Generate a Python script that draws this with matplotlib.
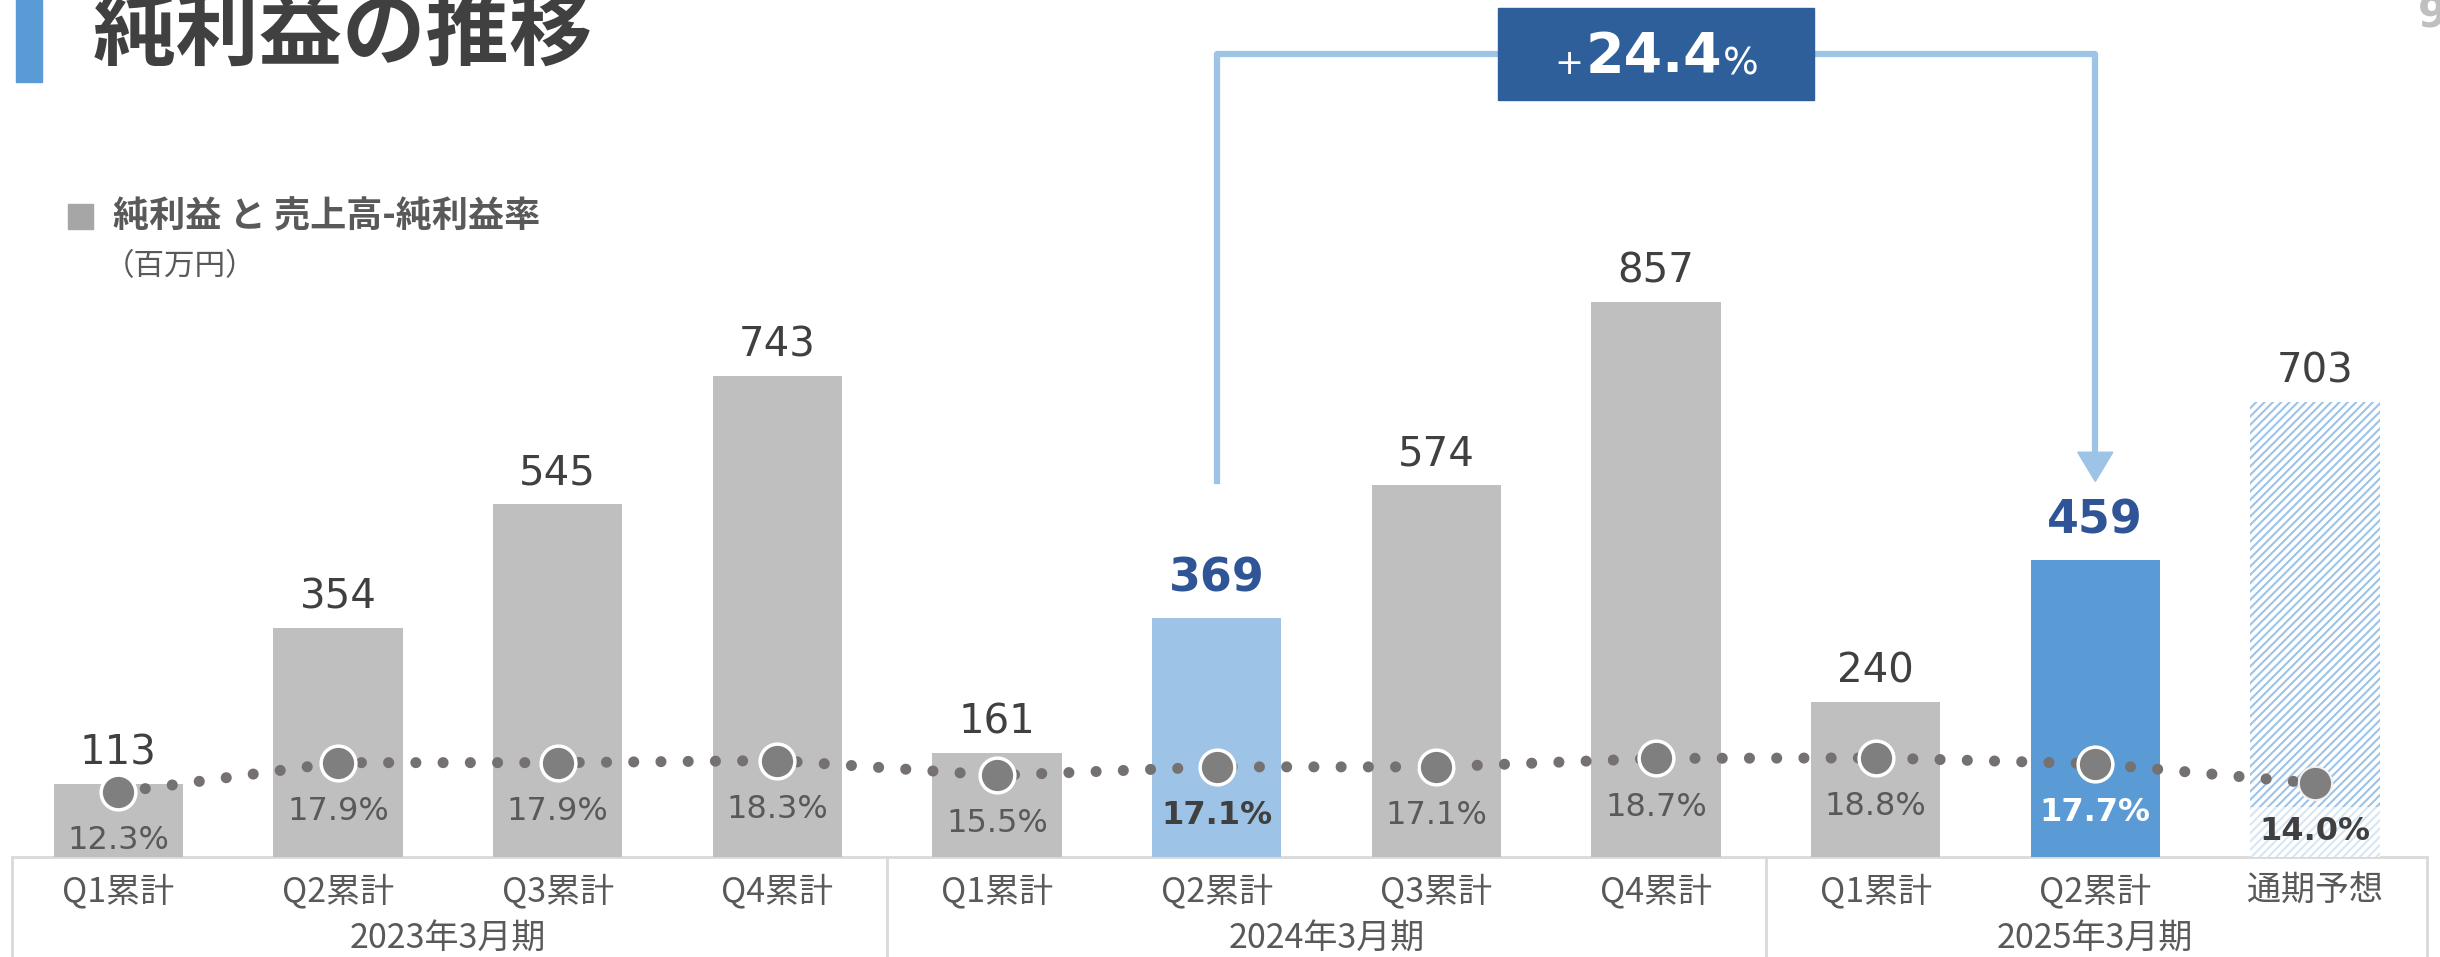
import numpy as np
import matplotlib
matplotlib.use("Agg")
import matplotlib.pyplot as plt
from matplotlib.patches import Rectangle, Polygon
from matplotlib.transforms import blended_transform_factory

plt.rcParams['font.family'] = ['Noto Sans CJK JP', 'DejaVu Sans']
plt.rcParams['hatch.linewidth'] = 1.5
num_font = ['DejaVu Sans']

# data
quarters = ["Q1累計", "Q2累計", "Q3累計", "Q4累計",
            "Q1累計", "Q2累計", "Q3累計", "Q4累計",
            "Q1累計", "Q2累計", "通期予想"]
periods = ["2023年3月期", "2024年3月期", "2025年3月期"]
period_sizes = [4, 4, 3]
net_income = [113, 354, 545, 743, 161, 369, 574, 857, 240, 459, 703]
margin = [12.3, 17.9, 17.9, 18.3, 15.5, 17.1, 17.1, 18.7, 18.8, 17.7, 14.0]
growth_label = "24.4"
compare = (5, 9)

grey = "#BFBFBF"
light_blue = "#9DC3E6"
mid_blue = "#5B9BD5"
dark_blue = "#2E5F9A"
label_blue = "#2F5597"
txt = "#404040"
txt2 = "#595959"

bar_colors = [grey] * 11
bar_colors[5] = light_blue
bar_colors[9] = mid_blue

fig = plt.figure(figsize=(24.4, 9.57), dpi=100)
ax = fig.add_axes([12.4 / 2440, 0.1041, (2427 - 12.4) / 2440, 0.8959])
ax.set_xlim(-0.482, 10.51)
ax.set_ylim(0, 1322.6)
ax.axis("off")

x = np.arange(len(net_income))
ax.bar(x[:-1], net_income[:-1], width=0.588, color=bar_colors[:-1], zorder=2)
ax.bar(x[-1:], net_income[-1:], width=0.588, color="white", edgecolor=light_blue,
       linewidth=0, hatch="////", zorder=2)

# value labels
for i, v in enumerate(net_income):
    if i in compare:
        ax.annotate(str(v), (i, v), xytext=(0, 28), textcoords="offset points",
                    ha="center", va="center", fontsize=33, fontweight="bold",
                    color=label_blue, family=num_font)
    else:
        ax.annotate(str(v), (i, v), xytext=(0, 22), textcoords="offset points",
                    ha="center", va="center", fontsize=29, color=txt,
                    family=num_font)

# margin line
ax2 = ax.twinx()
ax2.set_ylim(0, 162)
ax2.axis("off")
ax2.plot(x, margin, color="#767171", linewidth=8, linestyle=(0, (0.001, 2.45)),
         dash_capstyle="round", zorder=3)
ax2.plot(x[:-1], margin[:-1], "o", markersize=25, markerfacecolor="#7F7F7F",
         markeredgecolor="white", markeredgewidth=2.5, zorder=4)
ax2.plot(x[-1:], margin[-1:], "o", markersize=24, markerfacecolor="#7F7F7F",
         markeredgecolor="#F2F2F2", markeredgewidth=1.5, zorder=4)

for i, p in enumerate(margin):
    kw = dict(fontsize=23, color=txt2)
    if i == 5:
        kw = dict(fontsize=23, color=txt, fontweight="bold")
    elif i == 9:
        kw = dict(fontsize=23, color="white", fontweight="bold")
    elif i == 10:
        kw = dict(fontsize=23, color=txt, fontweight="bold",
                  bbox=dict(boxstyle="square,pad=0.3", facecolor="white",
                            edgecolor="none", alpha=0.6))
    ax2.annotate(f"{p:.1f}%", (i, p), xytext=(0, -35), textcoords="offset points",
                 ha="center", va="center", zorder=5, family=num_font, **kw)

# table under the bars
line_c = "#D9D9D9"
ax.plot([-0.482, 10.51], [0, 0], color=line_c, linewidth=2, clip_on=False, zorder=1)
edges = [-0.482, 3.5, 7.5, 10.51]
for e in edges:
    ax.axvline(e, ymin=-0.12, ymax=0, color=line_c, linewidth=2, clip_on=False)

tr = blended_transform_factory(ax.transData, fig.transFigure)
for i, q in enumerate(quarters):
    ax.text(i, 0.0683, q, transform=tr, ha="center", va="center",
            fontsize=24.5, color=txt2)
start = 0
for name, n in zip(periods, period_sizes):
    ax.text(start + (n - 1) / 2, 0.0198, name, transform=tr, ha="center",
            va="center", fontsize=24.5, color=txt2)
    start += n

# growth bracket
a, b = compare
y_low = 580
y_top = 1238.6
ax.plot([a, a, b, b], [y_low, y_top, y_top, y_low + 45], color=light_blue,
        linewidth=4.5, solid_joinstyle="round", clip_on=False, zorder=1)
ax.add_patch(Polygon([[b - 0.08, y_low + 45], [b + 0.08, y_low + 45], [b, y_low]],
                     closed=True, color=light_blue, zorder=1))
mid = (a + b) / 2
ax.add_patch(Rectangle((mid - 0.72, 1169), 1.44, 141.6, color=dark_blue, zorder=3))
ax.annotate(growth_label, (mid, y_top), xytext=(-1.5, -2), textcoords="offset points",
            ha="center", va="center", fontsize=40, fontweight="bold",
            color="white", zorder=4, family=num_font)
ax.annotate("+", (mid, y_top), xytext=(-63, -7), textcoords="offset points",
            ha="center", va="center", fontsize=25, color="white", zorder=4,
            family=num_font)
ax.annotate("%", (mid, y_top), xytext=(61, -7.5), textcoords="offset points",
            ha="center", va="center", fontsize=27, color="white", zorder=4,
            family=num_font)

# title and legend
fig.patches.append(Rectangle((15.5 / 2440, 1 - 82 / 957), 26.5 / 2440, 82 / 957,
                             transform=fig.transFigure, color=mid_blue))
fig.text(93 / 2440, 1 - 34 / 957, "純利益の推移", fontsize=60, color="#404040",
         ha="left", va="center", fontweight="bold")
fig.patches.append(Rectangle((68 / 2440, 1 - 229 / 957), 25 / 2440, 25 / 957,
                             transform=fig.transFigure, color="#A6A6A6"))
fig.text(113 / 2440, 1 - 217 / 957, "純利益 と 売上高-純利益率", fontsize=26,
         color=txt2, ha="left", va="center", fontweight="bold")
fig.text(104 / 2440, 1 - 267 / 957, "（百万円）", fontsize=22, color=txt2,
         ha="left", va="center")
fig.text(2418 / 2440, 1 - 27 / 957, "9", fontsize=30, color="#BFBFBF",
         ha="left", va="baseline", fontweight="bold", family=num_font)

fig.savefig("out.png", dpi=100, facecolor="white")
